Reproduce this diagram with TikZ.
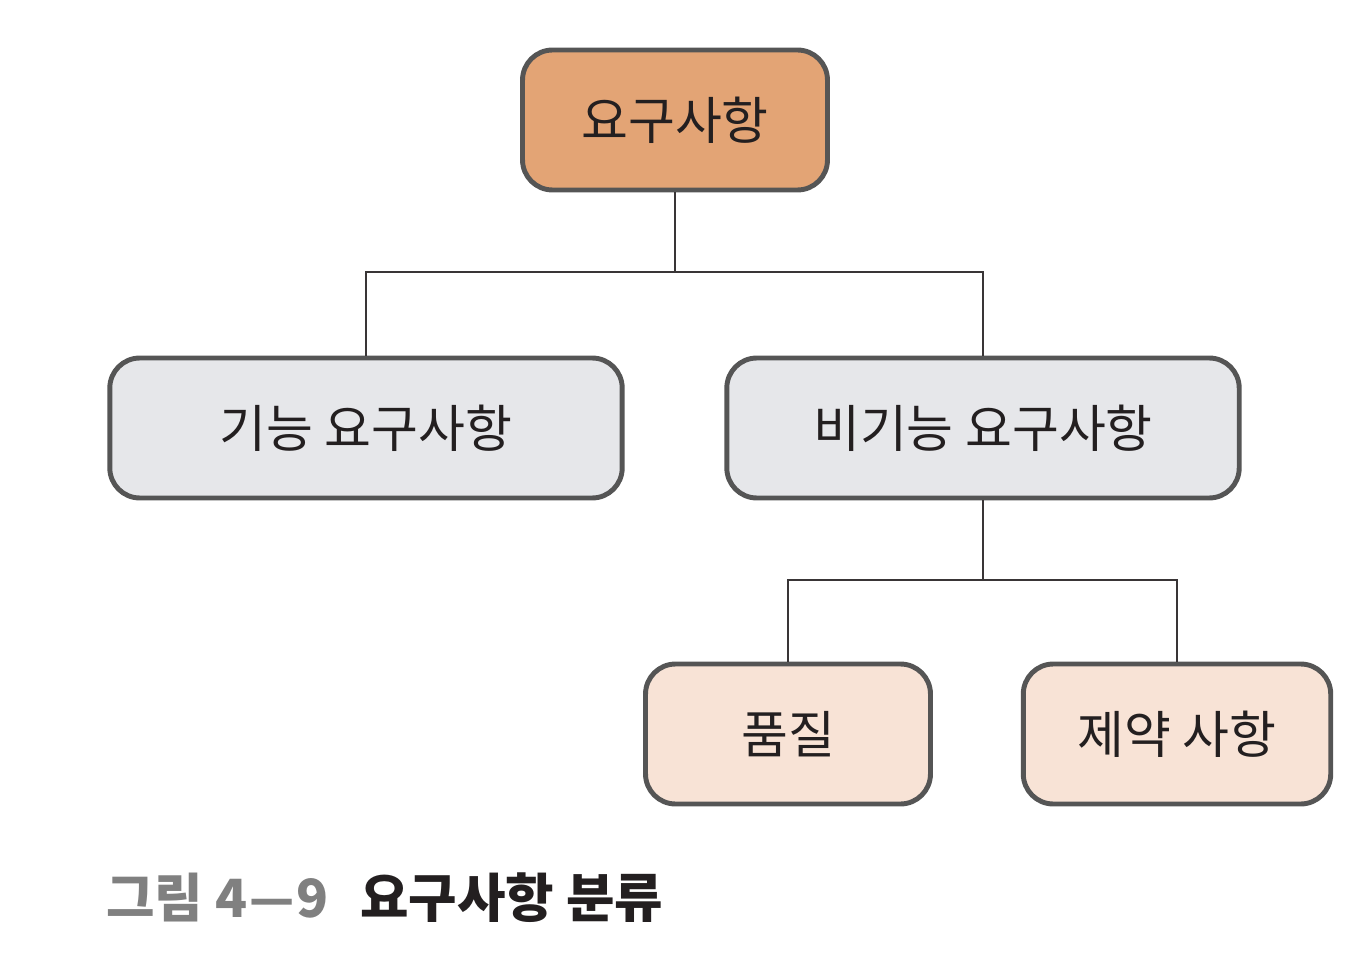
\documentclass[tikz,border=0pt]{standalone}
\usepackage{fontspec}
\setmainfont{Noto Sans CJK KR}
\usetikzlibrary{shapes, positioning, calc}

\definecolor{boxline}{HTML}{555555}
\definecolor{topfill}{HTML}{E3A475}
\definecolor{grayfill}{HTML}{E6E7EA}
\definecolor{palefill}{HTML}{F8E3D6}
\definecolor{capgray}{HTML}{808080}
\definecolor{inktext}{HTML}{231F20}

\begin{document}
\begin{tikzpicture}[x=0.02cm, y=-0.02cm]
    \tikzstyle{reqbox} = [draw=boxline, line width=2.8pt, rectangle, rounded corners=0.6cm, minimum height=2.8cm, align=center, text=inktext, font=\fontsize{29}{32}\selectfont, inner sep=0pt]
    \tikzstyle{link} = [draw=inktext!90, line width=1.4pt]

    \useasboundingbox (0,0) rectangle (1372,962);

    \node[reqbox, fill=topfill, minimum width=6.1cm] (req) at (675,120) {요구사항};
    \node[reqbox, fill=grayfill, minimum width=10.25cm] (func) at (366,428) {기능 요구사항};
    \node[reqbox, fill=grayfill, minimum width=10.25cm] (nonfunc) at (983,428) {비기능 요구사항};
    \node[reqbox, fill=palefill, minimum width=5.7cm] (quality) at (788,734) {품질};
    \node[reqbox, fill=palefill, minimum width=6.15cm] (constraint) at (1177,734) {제약 사항};

    \coordinate (split1) at (675,272);
    \coordinate (split2) at (983,580);

    \draw[link] (req.south) -- (split1) -| (func.north);
    \draw[link] (split1) -| (nonfunc.north);
    \draw[link] (nonfunc.south) -- (split2) -| (quality.north);
    \draw[link] (split2) -| (constraint.north);

    \node[anchor=base west, inner sep=0pt, font=\fontsize{30}{33}\selectfont\bfseries] (caption) at (106,917) {\textcolor{capgray}{그림 4\scalebox{1.7}[1]{–}9}\hspace{0.6em}\textcolor{inktext}{요구사항 분류}};
\end{tikzpicture}
\end{document}
